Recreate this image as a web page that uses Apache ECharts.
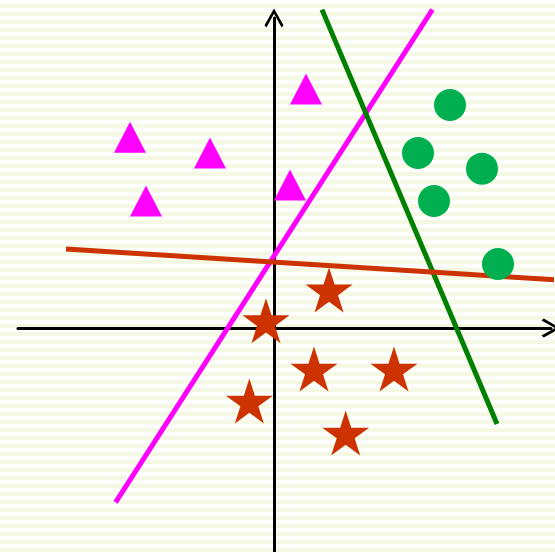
<!DOCTYPE html>
<html>
<head>
<meta charset="utf-8">
<script src="https://cdn.jsdelivr.net/npm/echarts@6/dist/echarts.min.js"></script>
<style>
  html, body { margin: 0; padding: 0; }
  #chart {
    width: 555px;
    height: 552px;
    background: repeating-linear-gradient(to bottom, #ffffff 0px, #ffffff 4px, #f5f8e2 4px, #f5f8e2 8px);
  }
</style>
</head>
<body>
<div id="chart"></div>
<script>
// point classes (x, y in axis units)
const triangles = [[-4.5, 5.96], [-2, 5.47], [-4, 3.97], [1, 7.47], [0.5, 4.47]]
const circles = [[5.5, 6.97], [4.5, 5.47], [6.5, 4.98], [5, 3.97], [7, 2]]
const stars = [[1.72, 1.19], [-0.25, 0.23], [1.25, -1.28], [3.75, -1.28], [-0.77, -2.28], [2.24, -3.28]]

// separating lines, two end points each
const magentaLine = [[-4.95, -5.45], [4.95, 9.95]]
const greenLine = [[1.5, 9.95], [6.97, -3]]
const orangeLine = [[-6.5, 2.47], [9, 1.49]]

const starPath = 'path://M0,-100L22.45,-30.9L95.11,-30.9L36.33,11.8L58.78,80.9L0,38.2L-58.78,80.9L-36.33,11.8L-95.11,-30.9L-22.45,-30.9Z'
const arrowPath = 'path://M50,0L100,88L90,100L50,28L10,100L0,88Z'

const chart = echarts.init(document.getElementById('chart'))

const axisLine = {
    onZero: true,
    symbol: ['none', arrowPath],
    symbolSize: [21, 19],
    lineStyle: { color: '#000', width: 3 }
}

const lineSeries = (data, color) => ({
    type: 'line',
    data: data,
    symbol: 'none',
    clip: false,
    silent: true,
    lineStyle: { color: color, width: 5, cap: 'butt' },
    z: 2
})

chart.setOption({
    backgroundColor: 'transparent',
    animation: false,
    grid: { left: 18, right: 4, top: 18, bottom: 0 },
    xAxis: {
        type: 'value',
        min: -8,
        max: 8.65625,
        axisLine: axisLine,
        axisTick: { show: false },
        axisLabel: { show: false },
        splitLine: { show: false }
    },
    yAxis: {
        type: 'value',
        min: -7,
        max: 9.6875,
        axisLine: axisLine,
        axisTick: { show: false },
        axisLabel: { show: false },
        splitLine: { show: false }
    },
    series: [
        lineSeries(magentaLine, '#ff00ff'),
        lineSeries(greenLine, '#008000'),
        lineSeries(orangeLine, '#cc3300'),
        {
            type: 'scatter',
            data: triangles,
            symbol: 'triangle',
            symbolSize: [32, 31],
            itemStyle: { color: '#ff00ff', opacity: 1 },
            z: 3
        },
        {
            type: 'scatter',
            data: circles,
            symbol: 'circle',
            symbolSize: 32,
            itemStyle: { color: '#00b050', opacity: 1 },
            z: 3
        },
        {
            type: 'scatter',
            data: stars,
            symbol: starPath,
            symbolSize: [47, 45],
            itemStyle: { color: '#cc3300', opacity: 1 },
            z: 3
        }
    ]
})
</script>
</body>
</html>
